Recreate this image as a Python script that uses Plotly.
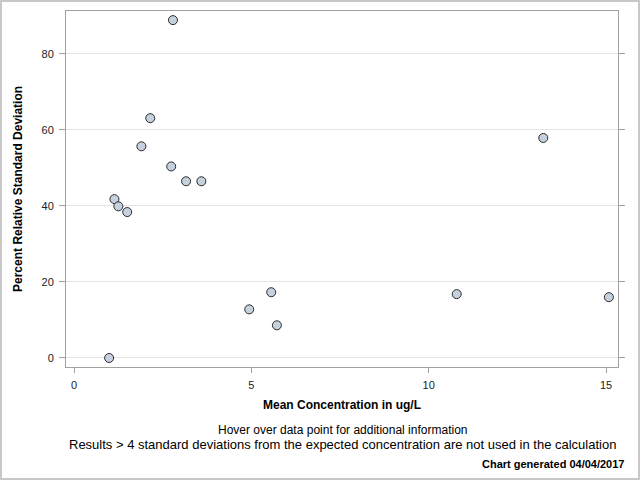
import plotly.graph_objects as go

# valores
concentracion = [0.99, 1.14, 1.25, 1.50, 1.90, 2.15, 2.74, 2.79, 3.16, 3.59,
                 4.94, 5.56, 5.72, 10.79, 13.23, 15.08]
rsd = [0.0, 41.8, 39.9, 38.4, 55.7, 63.1, 50.4, 88.9, 46.5, 46.5,
       12.8, 17.3, 8.6, 16.8, 57.9, 16.0]
ticks_x = [0, 5, 10, 15]
ticks_y = [0, 20, 40, 60, 80]

fuente = "Liberation Sans, Arial, sans-serif"

fig = go.Figure(go.Scatter(
    x=concentracion,
    y=rsd,
    mode="markers",
    marker=dict(size=9, color="#c6d1e0", line=dict(color="#2b2b2b", width=1)),
    hovertemplate="Mean: %{x}<br>RSD: %{y}<extra></extra>",
))

fig.update_xaxes(
    range=[-0.2255, 15.337], tickvals=ticks_x, showgrid=False, zeroline=False,
    showline=True, linecolor="#a0a0a0", linewidth=1, mirror=True,
    ticks="outside", ticklen=5, tickcolor="#a0a0a0", ticklabelstandoff=3,
    tickfont=dict(family=fuente, size=11, color="#222222"),
)
fig.update_yaxes(
    range=[-2.37, 91.3], tickvals=ticks_y, showgrid=True, gridcolor="#e4e4e4",
    zeroline=False, showline=True, linecolor="#a0a0a0", linewidth=1,
    mirror="allticks", ticks="outside", ticklen=6, tickcolor="#a0a0a0",
    ticklabelstandoff=3, tickfont=dict(family=fuente, size=11, color="#222222"),
)

# textos de los ejes y notas al pie
notas = [
    dict(text="<b>Mean Concentration in ug/L</b>", x=0.5, y=-0.1067, size=12, xanchor="center"),
    dict(text="Hover over data point for additional information", x=0.5, y=-0.177, size=12, xanchor="center"),
    dict(text="Results > 4 standard deviations from the expected concentration are not used in the calculation",
         x=0.5, y=-0.219, size=13, xanchor="center"),
    dict(text="<b>Chart generated 04/04/2017</b>", x=1.0145, y=-0.2725, size=11, xanchor="right"),
]
anotaciones = [
    dict(text=n["text"], x=n["x"], y=n["y"], xref="paper", yref="paper",
         xanchor=n["xanchor"], yanchor="middle", showarrow=False,
         font=dict(family=fuente, size=n["size"], color="#000000"))
    for n in notas
]
anotaciones.append(dict(
    text="<b>Percent Relative Standard Deviation</b>", x=-0.087, y=0.5,
    xref="paper", yref="paper", xanchor="center", yanchor="middle",
    textangle=-90, showarrow=False, font=dict(family=fuente, size=12, color="#000000"),
))

fig.update_layout(
    width=640, height=480,
    margin=dict(l=66, r=22, t=11, b=113),
    paper_bgcolor="white", plot_bgcolor="white",
    showlegend=False,
    annotations=anotaciones,
    shapes=[dict(type="rect", xref="paper", yref="paper",
                 x0=-0.1178, x1=1.0381, y0=1.0281, y1=-0.3146,
                 line=dict(color="#c8c8c8", width=2), layer="below")],
)

# quitar el margen del body para que el grafico empiece en la esquina
fig.write_html("out.html", config={"displayModeBar": False},
               post_script="document.body.style.margin='0';")
